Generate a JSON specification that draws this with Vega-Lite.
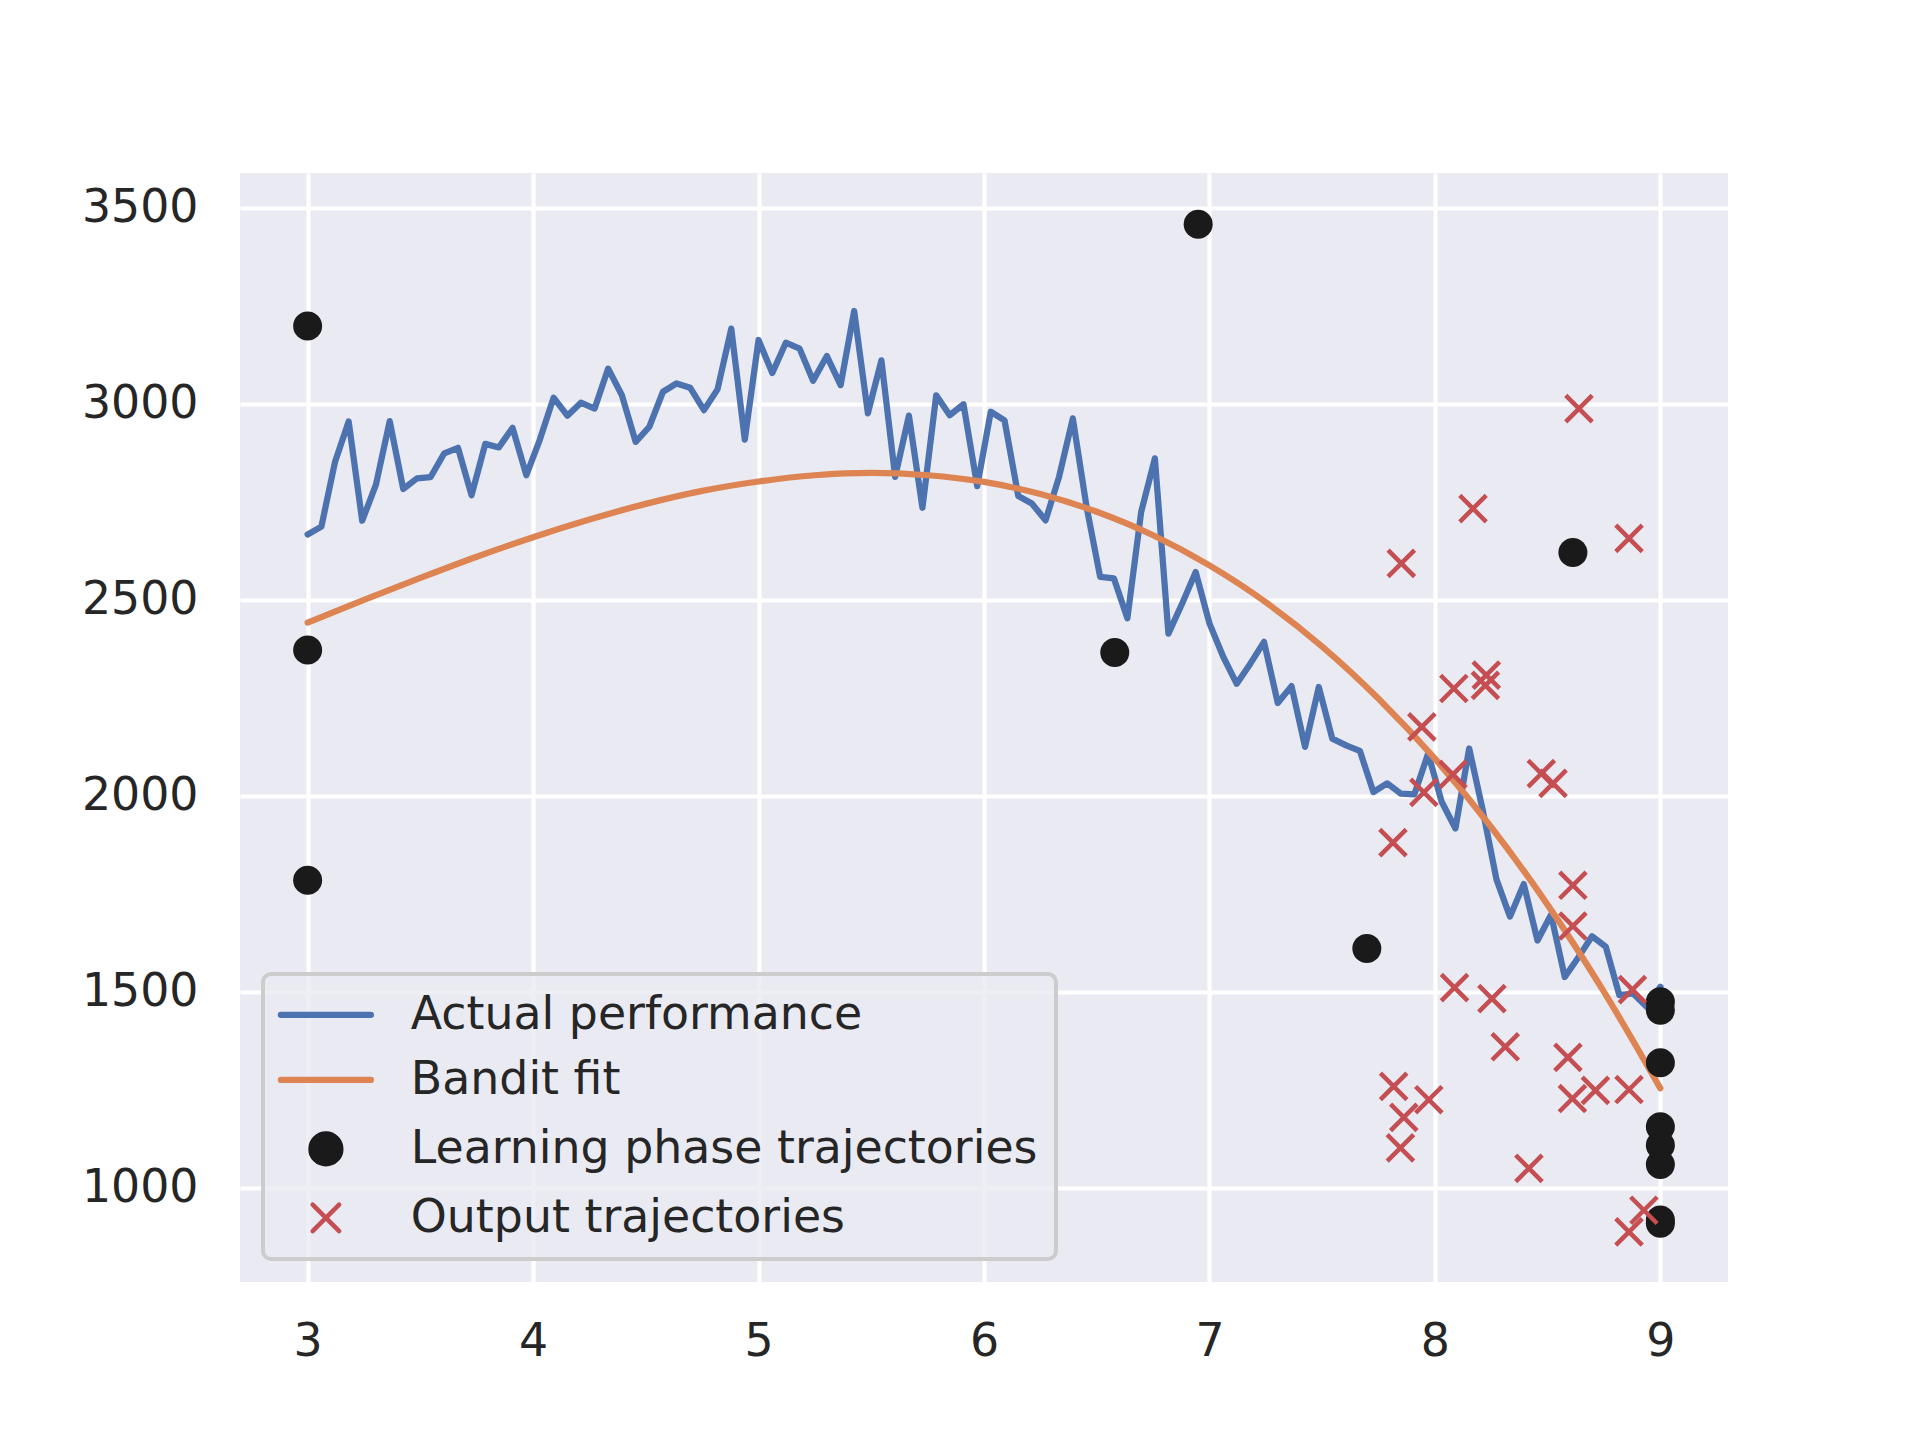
{
  "$schema": "https://vega.github.io/schema/vega-lite/v6.json",
  "width": 1488,
  "height": 1109,
  "autosize": {"type": "none"},
  "padding": {"left": 240, "top": 173, "right": 192, "bottom": 158},
  "background": "#ffffff",
  "config": {
    "font": "DejaVu Sans",
    "view": {"fill": "#EAEAF2", "stroke": null},
    "axis": {
      "domain": false,
      "ticks": false,
      "tickSize": 0,
      "grid": true,
      "gridColor": "#ffffff",
      "gridWidth": 4.2,
      "labelFont": "DejaVu Sans",
      "labelFontSize": 45.8,
      "labelColor": "#262626",
      "title": null
    },
    "legend": {
      "orient": "bottom-left",
      "offset": 23,
      "title": null,
      "labelFont": "DejaVu Sans",
      "labelFontSize": 45.8,
      "labelColor": "#262626",
      "labelLimit": 1000,
      "fillColor": "rgba(234,234,242,0.8)",
      "strokeColor": "#CCCCCC",
      "padding": 18,
      "cornerRadius": 8,
      "rowPadding": 18,
      "symbolSize": 8100,
      "symbolOffset": 22,
      "labelOffset": 62
    }
  },
  "datasets": {
    "perf": [
      {"x": 3.000, "y": 2667}, {"x": 3.061, "y": 2687}, {"x": 3.121, "y": 2851}, {"x": 3.182, "y": 2955},
      {"x": 3.242, "y": 2702}, {"x": 3.303, "y": 2794}, {"x": 3.364, "y": 2956}, {"x": 3.424, "y": 2783},
      {"x": 3.485, "y": 2810}, {"x": 3.545, "y": 2813}, {"x": 3.606, "y": 2874}, {"x": 3.667, "y": 2888},
      {"x": 3.727, "y": 2767}, {"x": 3.788, "y": 2898}, {"x": 3.848, "y": 2889}, {"x": 3.909, "y": 2939},
      {"x": 3.970, "y": 2818}, {"x": 4.030, "y": 2909}, {"x": 4.091, "y": 3016}, {"x": 4.152, "y": 2970},
      {"x": 4.212, "y": 3003}, {"x": 4.273, "y": 2988}, {"x": 4.333, "y": 3090}, {"x": 4.394, "y": 3022},
      {"x": 4.455, "y": 2903}, {"x": 4.515, "y": 2941}, {"x": 4.576, "y": 3031}, {"x": 4.636, "y": 3052},
      {"x": 4.697, "y": 3041}, {"x": 4.758, "y": 2984}, {"x": 4.818, "y": 3037}, {"x": 4.879, "y": 3192},
      {"x": 4.939, "y": 2909}, {"x": 5.000, "y": 3163}, {"x": 5.061, "y": 3079}, {"x": 5.121, "y": 3156},
      {"x": 5.182, "y": 3141}, {"x": 5.242, "y": 3059}, {"x": 5.303, "y": 3122}, {"x": 5.364, "y": 3048},
      {"x": 5.424, "y": 3237}, {"x": 5.485, "y": 2976}, {"x": 5.545, "y": 3111}, {"x": 5.606, "y": 2814},
      {"x": 5.667, "y": 2970}, {"x": 5.727, "y": 2735}, {"x": 5.788, "y": 3022}, {"x": 5.848, "y": 2971},
      {"x": 5.909, "y": 2999}, {"x": 5.970, "y": 2790}, {"x": 6.030, "y": 2980}, {"x": 6.091, "y": 2958},
      {"x": 6.152, "y": 2765}, {"x": 6.212, "y": 2746}, {"x": 6.273, "y": 2703}, {"x": 6.333, "y": 2814},
      {"x": 6.394, "y": 2963}, {"x": 6.455, "y": 2737}, {"x": 6.515, "y": 2559}, {"x": 6.576, "y": 2555},
      {"x": 6.636, "y": 2453}, {"x": 6.697, "y": 2724}, {"x": 6.758, "y": 2861}, {"x": 6.818, "y": 2414},
      {"x": 6.879, "y": 2491}, {"x": 6.939, "y": 2571}, {"x": 7.000, "y": 2440}, {"x": 7.061, "y": 2355},
      {"x": 7.121, "y": 2286}, {"x": 7.182, "y": 2338}, {"x": 7.242, "y": 2393}, {"x": 7.303, "y": 2237},
      {"x": 7.364, "y": 2280}, {"x": 7.424, "y": 2125}, {"x": 7.485, "y": 2278}, {"x": 7.545, "y": 2146},
      {"x": 7.606, "y": 2129}, {"x": 7.667, "y": 2115}, {"x": 7.727, "y": 2010}, {"x": 7.788, "y": 2032},
      {"x": 7.848, "y": 2006}, {"x": 7.909, "y": 2004}, {"x": 7.970, "y": 2108}, {"x": 8.030, "y": 1985},
      {"x": 8.091, "y": 1917}, {"x": 8.152, "y": 2121}, {"x": 8.212, "y": 1964}, {"x": 8.273, "y": 1787},
      {"x": 8.333, "y": 1692}, {"x": 8.394, "y": 1775}, {"x": 8.455, "y": 1631}, {"x": 8.515, "y": 1697},
      {"x": 8.576, "y": 1538}, {"x": 8.636, "y": 1588}, {"x": 8.697, "y": 1642}, {"x": 8.758, "y": 1615},
      {"x": 8.818, "y": 1492}, {"x": 8.879, "y": 1496}, {"x": 8.939, "y": 1462}, {"x": 9.000, "y": 1513}
    ],
    "fit": [
      {"x": 3.00, "y": 2442}, {"x": 3.25, "y": 2500}, {"x": 3.50, "y": 2556}, {"x": 3.75, "y": 2610},
      {"x": 4.00, "y": 2660}, {"x": 4.25, "y": 2705}, {"x": 4.50, "y": 2745}, {"x": 4.75, "y": 2778},
      {"x": 5.00, "y": 2802}, {"x": 5.25, "y": 2818}, {"x": 5.50, "y": 2824}, {"x": 5.75, "y": 2818},
      {"x": 6.00, "y": 2801}, {"x": 6.25, "y": 2770}, {"x": 6.50, "y": 2725}, {"x": 6.75, "y": 2665},
      {"x": 7.00, "y": 2588}, {"x": 7.25, "y": 2494}, {"x": 7.50, "y": 2381}, {"x": 7.75, "y": 2248},
      {"x": 8.00, "y": 2095}, {"x": 8.25, "y": 1920}, {"x": 8.50, "y": 1722}, {"x": 8.75, "y": 1500},
      {"x": 9.00, "y": 1254}
    ],
    "learn": [
      {"x": 3.0, "y": 3199}, {"x": 3.0, "y": 2372}, {"x": 3.0, "y": 1785},
      {"x": 6.95, "y": 3458}, {"x": 6.58, "y": 2366}, {"x": 7.698, "y": 1611}, {"x": 8.612, "y": 2621},
      {"x": 9.0, "y": 1475}, {"x": 9.0, "y": 1453}, {"x": 9.0, "y": 1319}, {"x": 9.0, "y": 1156},
      {"x": 9.0, "y": 1109}, {"x": 9.0, "y": 1060}, {"x": 9.0, "y": 918}, {"x": 9.0, "y": 910}
    ],
    "out": [
      {"x": 7.814, "y": 1881}, {"x": 7.942, "y": 2176}, {"x": 7.951, "y": 2009}, {"x": 8.084, "y": 2274},
      {"x": 8.224, "y": 2282}, {"x": 8.228, "y": 2308}, {"x": 8.080, "y": 2055}, {"x": 8.472, "y": 2057},
      {"x": 8.524, "y": 2032}, {"x": 8.612, "y": 1772}, {"x": 8.612, "y": 1668}, {"x": 8.087, "y": 1511},
      {"x": 8.253, "y": 1483}, {"x": 8.312, "y": 1360}, {"x": 8.590, "y": 1333}, {"x": 8.876, "y": 1506},
      {"x": 7.817, "y": 1259}, {"x": 7.973, "y": 1225}, {"x": 7.862, "y": 1180}, {"x": 7.847, "y": 1102},
      {"x": 8.610, "y": 1228}, {"x": 8.712, "y": 1249}, {"x": 8.861, "y": 1251}, {"x": 8.417, "y": 1050},
      {"x": 8.927, "y": 943}, {"x": 8.861, "y": 888}, {"x": 8.639, "y": 2988}, {"x": 8.169, "y": 2733},
      {"x": 8.861, "y": 2657}, {"x": 7.851, "y": 2593}
    ]
  },
  "encoding": {
    "x": {
      "field": "x",
      "type": "quantitative",
      "scale": {"domain": [2.7, 9.3], "nice": false, "zero": false},
      "axis": {"values": [3, 4, 5, 6, 7, 8, 9], "format": "d", "labelPadding": 37}
    },
    "y": {
      "field": "y",
      "type": "quantitative",
      "scale": {"domain": [760, 3589], "nice": false, "zero": false},
      "axis": {"values": [1000, 1500, 2000, 2500, 3000, 3500], "format": "d", "labelPadding": 42}
    }
  },
  "layer": [
    {
      "data": {"name": "perf"},
      "mark": {"type": "line", "strokeWidth": 6.25, "strokeCap": "round", "strokeJoin": "round"},
      "encoding": {
        "color": {
          "datum": "Actual performance",
          "type": "nominal",
          "scale": {
            "domain": ["Actual performance", "Bandit fit", "Learning phase trajectories", "Output trajectories"],
            "range": ["#4C72B0", "#DD8452", "#1A1A1A", "#C44E52"]
          },
          "legend": {
            "encode": {
              "legend": {"update": {"strokeWidth": {"value": 4}}},
              "symbols": {
                "update": {
                  "shape": {"signal": "datum.value === 'Learning phase trajectories' ? 'circle' : datum.value === 'Output trajectories' ? 'M-1,-1L1,1M-1,1L1,-1' : 'stroke'"},
                  "size": {"signal": "datum.value === 'Learning phase trajectories' ? 841 : datum.value === 'Output trajectories' ? 700 : 8100"},
                  "fill": {"signal": "datum.value === 'Learning phase trajectories' ? '#1A1A1A' : 'transparent'"},
                  "stroke": {"signal": "datum.value === 'Actual performance' ? '#4C72B0' : datum.value === 'Bandit fit' ? '#DD8452' : datum.value === 'Output trajectories' ? '#C44E52' : 'transparent'"},
                  "strokeWidth": {"signal": "datum.value === 'Output trajectories' ? 4.5 : 6.25"},
                  "strokeCap": {"value": "round"},
                  "opacity": {"value": 1}
                }
              }
            }
          }
        }
      }
    },
    {
      "data": {"name": "fit"},
      "mark": {"type": "line", "interpolate": "monotone", "strokeWidth": 6.25, "strokeCap": "round"},
      "encoding": {"color": {"datum": "Bandit fit", "type": "nominal"}}
    },
    {
      "data": {"name": "learn"},
      "mark": {"type": "circle", "size": 841, "opacity": 1},
      "encoding": {"color": {"datum": "Learning phase trajectories", "type": "nominal"}}
    },
    {
      "data": {"name": "out"},
      "mark": {"type": "point", "shape": "M-1,-1L1,1M-1,1L1,-1", "filled": false, "size": 700, "strokeWidth": 4.5, "opacity": 1},
      "encoding": {"color": {"datum": "Output trajectories", "type": "nominal"}}
    }
  ]
}
